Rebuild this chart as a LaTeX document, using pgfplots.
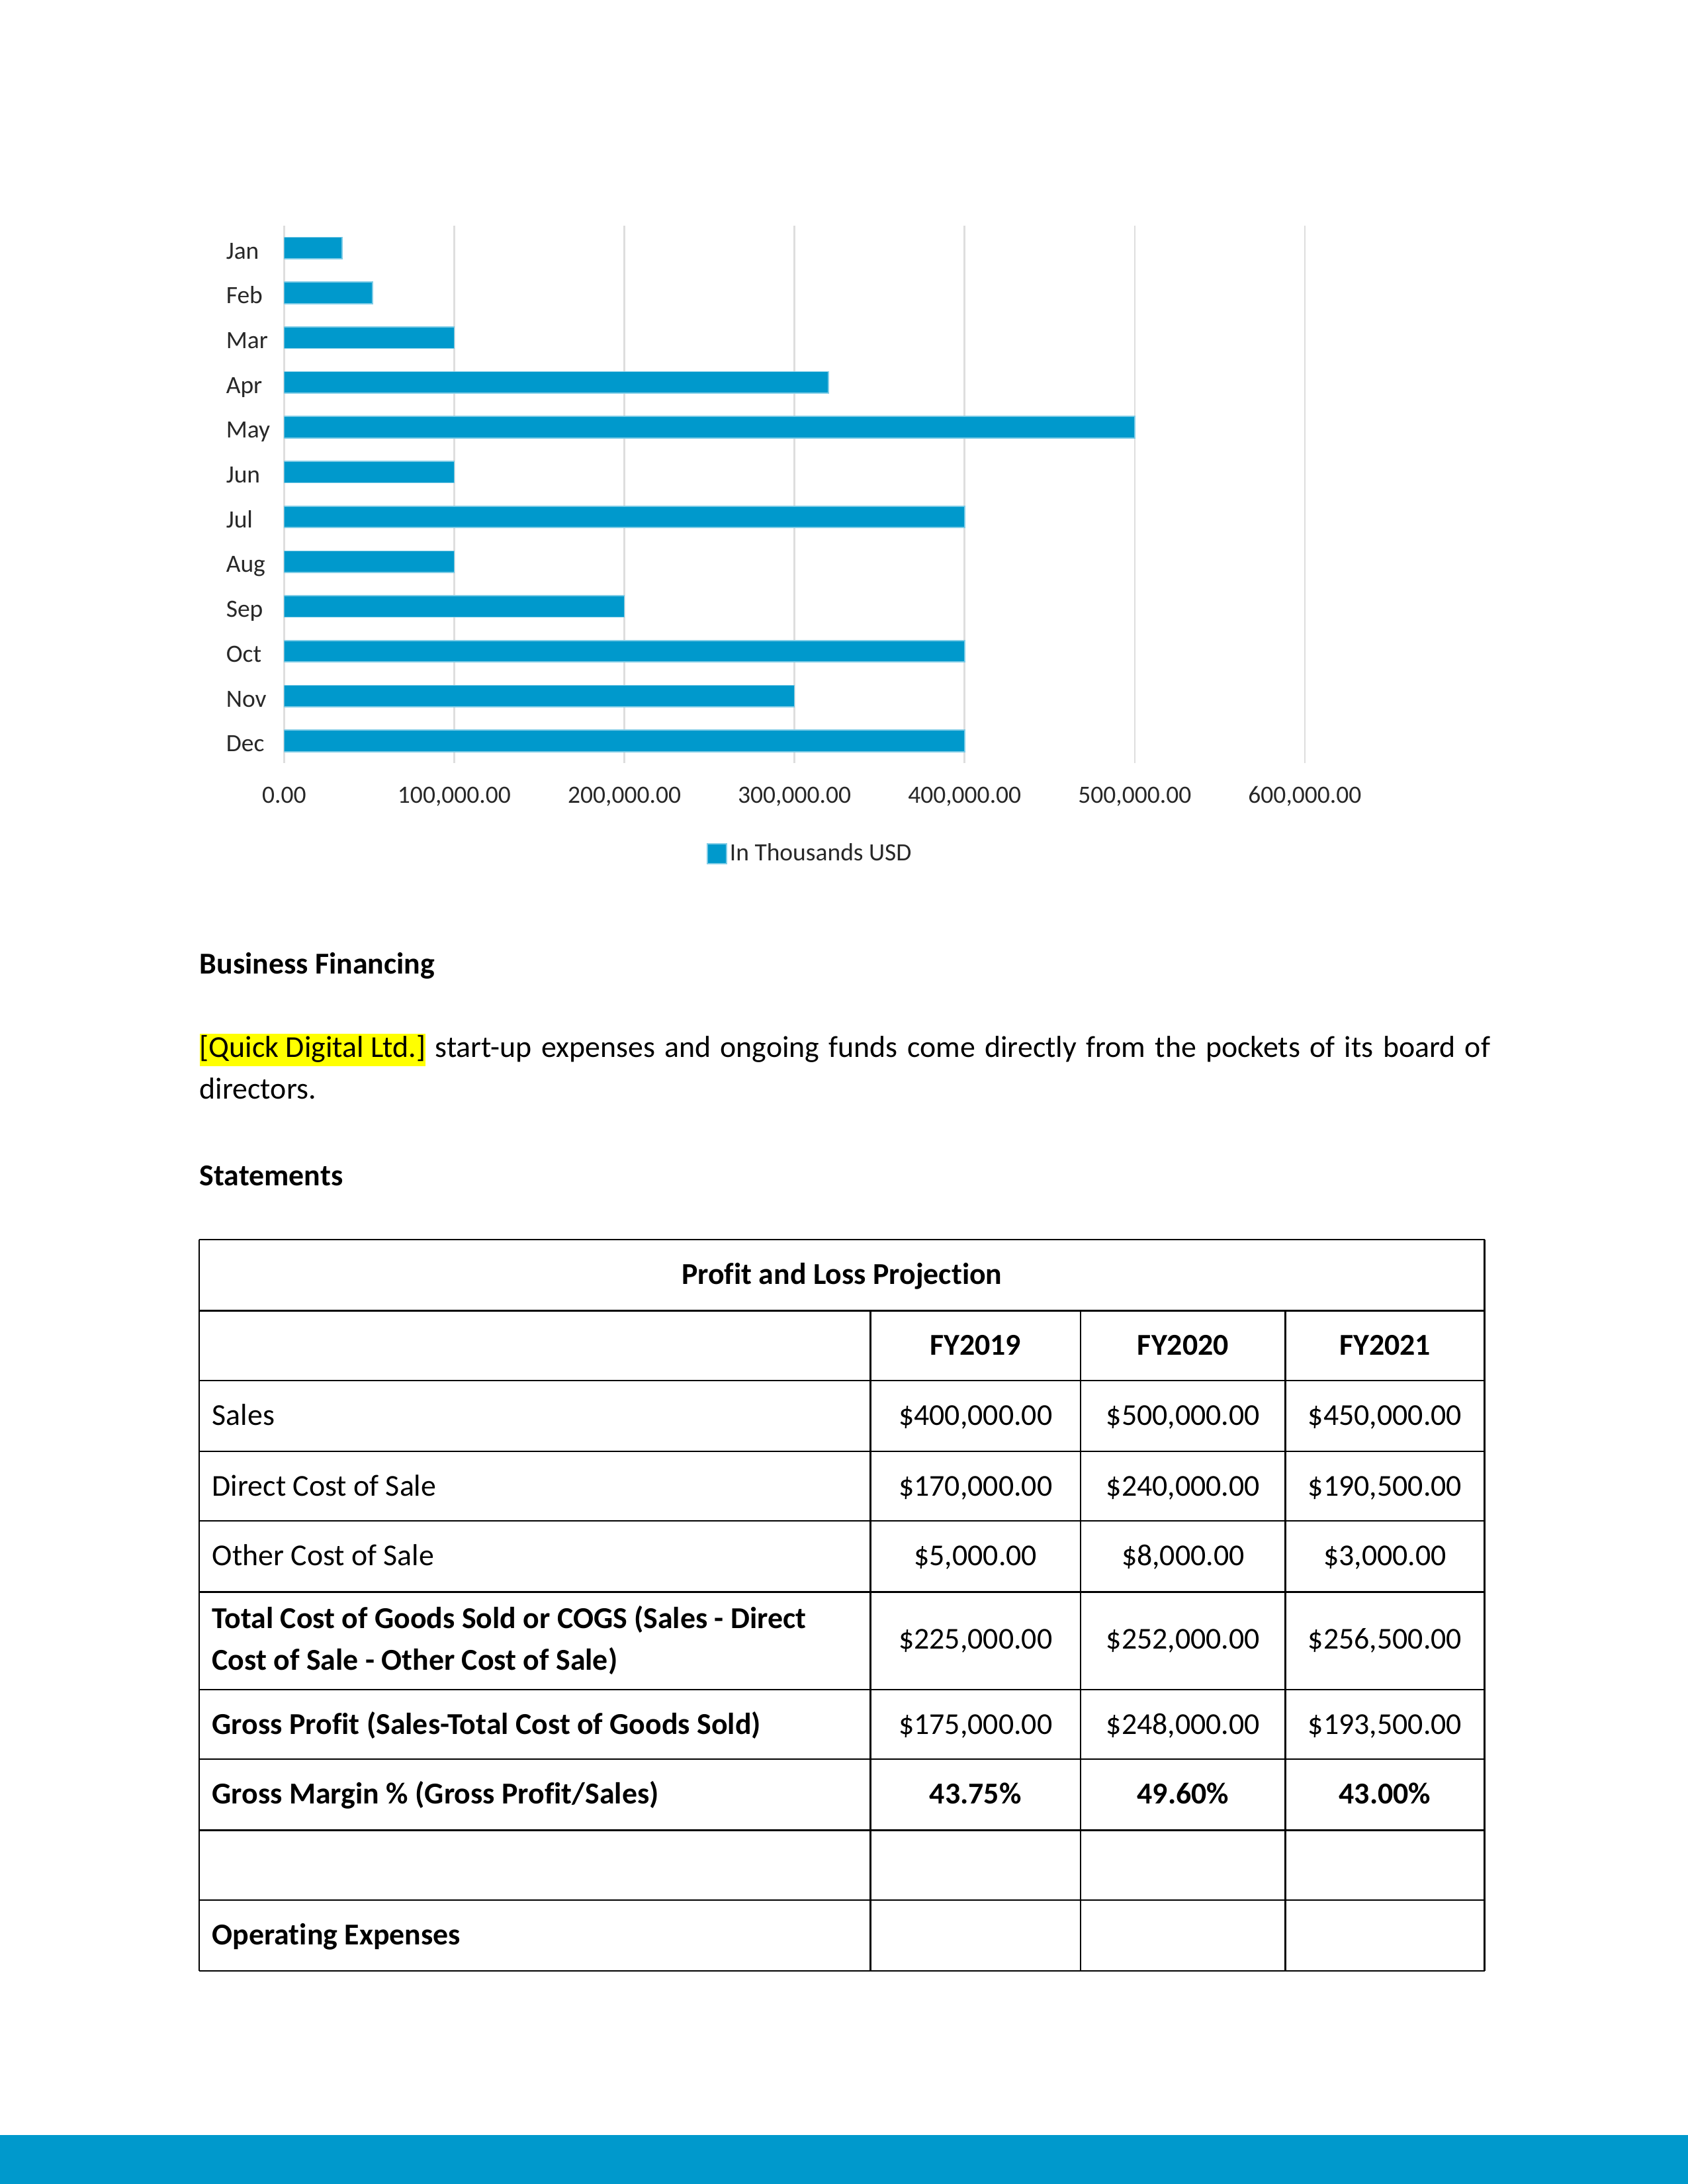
\documentclass[border=0pt]{standalone}
\usepackage{pgfplots}
\pgfplotsset{compat=1.18}
\usepackage{fontspec}
\setmainfont{Carlito}[Ligatures=NoCommon]
\definecolor{barblue}{RGB}{0,153,204}
\definecolor{baredge}{RGB}{128,204,230}
\definecolor{gridgray}{RGB}{222,222,222}
\definecolor{labgray}{RGB}{40,40,40}
\definecolor{hl}{RGB}{255,255,0}
\newcommand\bodyfont{\fontsize{11bp}{13.4bp}\selectfont}
\newcommand\chartfont{\fontsize{9bp}{10bp}\selectfont}
\begin{document}
\begin{tikzpicture}[x=0.50495bp,y=-0.50495bp]
\useasboundingbox (0,0) rectangle (1212,1568);
\fill[white] (0,0) rectangle (1212,1568);
\coordinate (axisNW) at (204,162);
\begin{axis}[
  at={(axisNW)}, anchor=north west,
  scale only axis, width=370.1bp, height=194.9bp,
  xbar, bar width=7.8bp,
  xmin=0, xmax=600000, ymin=0.5, ymax=12.5, y dir=reverse,
  xtick={0,100000,200000,300000,400000,500000,600000},
  ytick={1,2,3,4,5,6,7,8,9,10,11,12},
  yticklabels={Jan,Feb,Mar,Apr,May,Jun,Jul,Aug,Sep,Oct,Nov,Dec},
  scaled x ticks=false,
  /pgf/number format/fixed,
  /pgf/number format/fixed zerofill,
  /pgf/number format/precision=2,
  /pgf/number format/1000 sep={,},
  /pgf/number format/assume math mode=true,
  xmajorgrids=true,
  major grid style={draw=gridgray, line width=0.6bp},
  axis line style={draw=none},
  major tick length=0pt,
  tick label style={font=\chartfont, text=labgray},
  yticklabel style={anchor=base west, inner sep=0pt, xshift=-21.2bp, yshift=-3.9bp},
  xticklabel style={anchor=base, inner sep=0pt, yshift=-14.4bp},
  legend style={at={(0.4134,-0.1685)}, anchor=west, draw=none, fill=none,
    inner sep=0pt, font=\chartfont, text=labgray, nodes={inner sep=1bp}},
  legend image code/.code={\fill[barblue, draw=baredge, line width=0.4bp] (0bp,-3.6bp) rectangle (7bp,3.6bp);},
]
\addplot[fill=barblue, draw=baredge, line width=0.4bp] coordinates {
  (34000,1) (52000,2) (100000,3) (320000,4) (500000,5) (100000,6)
  (400000,7) (100000,8) (200000,9) (400000,10) (300000,11) (400000,12)};
\legend{In Thousands USD}
\end{axis}

% Text
\node[anchor=base west, inner sep=0pt] at (143,699) {\bodyfont\bfseries Business Financing};
\node[anchor=base west, inner sep=0pt] at (143,759) {\bodyfont\setlength\fboxsep{0pt}\makebox[468bp][s]{\colorbox{hl}{\rule[-3.2bp]{0pt}{11.6bp}[Quick Digital Ltd.]} start-up expenses and ongoing funds come directly from the pockets of its board of}};
\node[anchor=base west, inner sep=0pt] at (143,789) {\bodyfont directors.};
\node[anchor=base west, inner sep=0pt] at (143,851) {\bodyfont\bfseries Statements};

% Table lines
\begin{scope}[line width=0.55bp, black]
\foreach \yy in {890,941,991,1042,1092,1143,1213,1263,1314,1364,1415}
  \draw (143,\yy) -- (1066,\yy);
\draw (143,890) -- (143,1415);
\draw (1066,890) -- (1066,1415);
\foreach \xx in {625,776,923}
  \draw (\xx,941) -- (\xx,1415);
\end{scope}

% Table text
\node[anchor=base, inner sep=0pt] at (604.5,922) {\bodyfont\bfseries Profit and Loss Projection};
\node[anchor=base, inner sep=0pt] at (700.5,973) {\bodyfont\bfseries FY2019};
\node[anchor=base, inner sep=0pt] at (849.5,973) {\bodyfont\bfseries FY2020};
\node[anchor=base, inner sep=0pt] at (994.5,973) {\bodyfont\bfseries FY2021};

\node[anchor=base west, inner sep=0pt] at (152,1023) {\bodyfont Sales};
\node[anchor=base, inner sep=0pt] at (700.5,1023) {\bodyfont \$400,000.00};
\node[anchor=base, inner sep=0pt] at (849.5,1023) {\bodyfont \$500,000.00};
\node[anchor=base, inner sep=0pt] at (994.5,1023) {\bodyfont \$450,000.00};

\node[anchor=base west, inner sep=0pt] at (152,1074) {\bodyfont Direct Cost of Sale};
\node[anchor=base, inner sep=0pt] at (700.5,1074) {\bodyfont \$170,000.00};
\node[anchor=base, inner sep=0pt] at (849.5,1074) {\bodyfont \$240,000.00};
\node[anchor=base, inner sep=0pt] at (994.5,1074) {\bodyfont \$190,500.00};

\node[anchor=base west, inner sep=0pt] at (152,1124) {\bodyfont Other Cost of Sale};
\node[anchor=base, inner sep=0pt] at (700.5,1124) {\bodyfont \$5,000.00};
\node[anchor=base, inner sep=0pt] at (849.5,1124) {\bodyfont \$8,000.00};
\node[anchor=base, inner sep=0pt] at (994.5,1124) {\bodyfont \$3,000.00};

\node[anchor=base west, inner sep=0pt] at (152,1169) {\bodyfont\bfseries Total Cost of Goods Sold or COGS (Sales - Direct};
\node[anchor=base west, inner sep=0pt] at (152,1199) {\bodyfont\bfseries Cost of Sale - Other Cost of Sale)};
\node[anchor=base, inner sep=0pt] at (700.5,1184) {\bodyfont \$225,000.00};
\node[anchor=base, inner sep=0pt] at (849.5,1184) {\bodyfont \$252,000.00};
\node[anchor=base, inner sep=0pt] at (994.5,1184) {\bodyfont \$256,500.00};

\node[anchor=base west, inner sep=0pt] at (152,1245) {\bodyfont\bfseries Gross Profit (Sales-Total Cost of Goods Sold)};
\node[anchor=base, inner sep=0pt] at (700.5,1245) {\bodyfont \$175,000.00};
\node[anchor=base, inner sep=0pt] at (849.5,1245) {\bodyfont \$248,000.00};
\node[anchor=base, inner sep=0pt] at (994.5,1245) {\bodyfont \$193,500.00};

\node[anchor=base west, inner sep=0pt] at (152,1295) {\bodyfont\bfseries Gross Margin \% (Gross Profit/Sales)};
\node[anchor=base, inner sep=0pt] at (700.5,1295) {\bodyfont\bfseries 43.75\%};
\node[anchor=base, inner sep=0pt] at (849.5,1295) {\bodyfont\bfseries 49.60\%};
\node[anchor=base, inner sep=0pt] at (994.5,1295) {\bodyfont\bfseries 43.00\%};

\node[anchor=base west, inner sep=0pt] at (152,1396) {\bodyfont\bfseries Operating Expenses};

% Bottom band
\fill[barblue] (0,1533) rectangle (1212,1568);
\end{tikzpicture}
\end{document}
